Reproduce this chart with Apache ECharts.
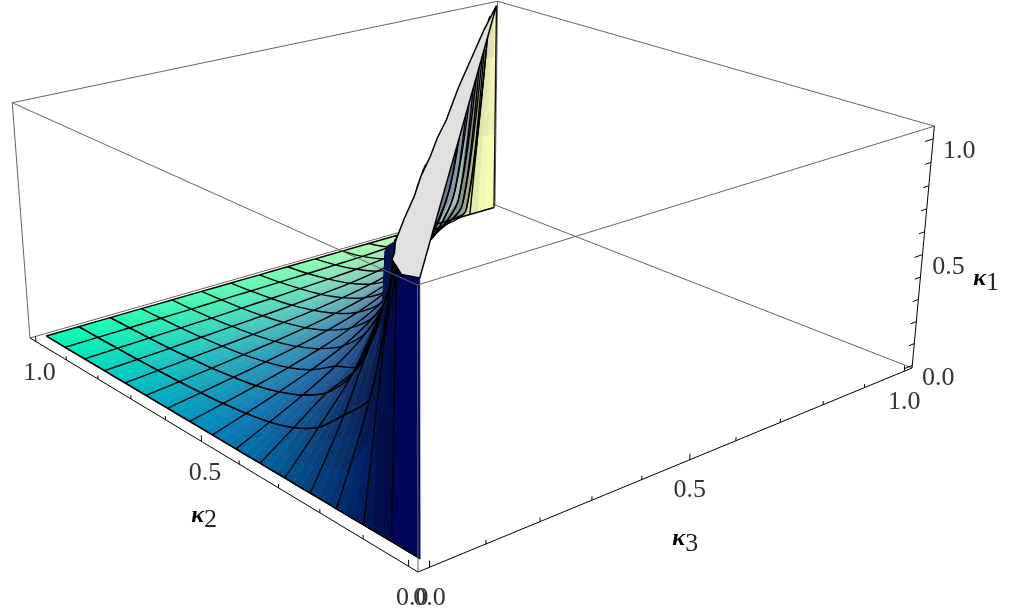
<!DOCTYPE html>
<html><head><meta charset="utf-8">
<style>html,body{margin:0;padding:0;background:#fff}#c{width:1014px;height:615px}</style>
<script src="https://cdn.jsdelivr.net/npm/echarts@6/dist/echarts.min.js"></script>
</head><body><div id="c"></div>
<script>
// ---- data: k1 over the mesh k2=a/16, k3=b/16 (b<=a); last entry of a row sits above the clip
const meshSteps = 16;
const k1Row01 = [0,5.5];
const k1Row02 = [0,1.1,1.6];
const k1Row03 = [0,.40,.98,1.4];
const k1Row04 = [0,.27,.60,.90,1.6];
const k1Row05 = [0,.16,.33,.59,.95,1.6];
const k1Row06 = [0,.10,.20,.27,.55,.90,1.4];
const k1Row07 = [0,.065,.133,.21,.316,.49,.90,1.35];
const k1Row08 = [0,.044,.09,.14,.20,.287,.44,.87,1.3];
const k1Row09 = [0,.03,.061,.095,.134,.183,.254,.386,.757,1.35];
const k1Row10 = [0,.021,.043,.066,.091,.121,.16,.219,.329,.648,1.38];
const k1Row11 = [0,.014,.029,.045,.061,.08,.104,.135,.183,.273,.538,1.35];
const k1Row12 = [0,.01,.02,.03,.041,.053,.067,.085,.109,.147,.219,.432,1.31];
const k1Row13 = [0,.006,.012,.019,.026,.033,.041,.051,.063,.082,.11,.164,.322,1.28];
const k1Row14 = [0,.004,.007,.011,.014,.019,.023,.029,.035,.043,.055,.073,.109,.216,1.26];
const k1Row15 = [0,.002,.003,.005,.006,.008,.01,.012,.014,.017,.02,.027,.036,.054,.107,1.25];
const k1Row16 = [0,0,0,0,0,0,0,0,0,0,0,0,0,0,0,0,0];
const k1Clip = 1.05;                 // the surface is cut flat at this height
// outline of the flat cut, read along its edge
const capK2 = [0,.04,.075,.09,.125,.1875,.25,.3125,.375,.4375,.5,.625,.75,.875,1];
const capK3 = [0,.002,.014,.03,.0597,.125,.193,.256,.325,.39,.46,.59,.725,.86,1];
const capK1 = [1.05,1.03,1.05,1.05,1.05,1.05,1.05,1.05,1.05,1.05,1.05,1.05,1.05,1.05,1.05];
const tickValues = [0,.1,.2,.3,.4,.5,.6,.7,.8,.9,1];
const tickLabels = ['0.0','0.5','1.0'];

// ---- view
const pad = {lo:-.02, hi:1.02, zLo:-.012, zHi:1.054};
const cam = {Xo:418,Xu:-380.2,Xv:696.6,Xz:-23,Yo:572,Yu:-145.6,Yv:-122.3,Yz:-302.3,a:.2616,b:.2221,c:-.0538};
const rows = [[0],k1Row01,k1Row02,k1Row03,k1Row04,k1Row05,k1Row06,k1Row07,k1Row08,k1Row09,k1Row10,k1Row11,k1Row12,k1Row13,k1Row14,k1Row15,k1Row16];
const SUB = 3, FRONT_ROWS = 2;

function box(p){return [(p[0]-pad.lo)/(pad.hi-pad.lo),(p[1]-pad.lo)/(pad.hi-pad.lo),(p[2]-pad.zLo)/(pad.zHi-pad.zLo)];}
function depth(p){const b=box(p);return 1+cam.a*b[0]+cam.b*b[1]+cam.c*b[2];}
function project(p){const b=box(p),w=depth(p);
  return [(cam.Xo+cam.Xu*b[0]+cam.Xv*b[1]+cam.Xz*b[2])/w,(cam.Yo+cam.Yu*b[0]+cam.Yv*b[1]+cam.Yz*b[2])/w];}
function V(a,b){return [a/meshSteps,b/meshSteps,rows[a][b]];}
function lerp(p,q,t){return [p[0]+(q[0]-p[0])*t,p[1]+(q[1]-p[1])*t,p[2]+(q[2]-p[2])*t];}
function clipPoly(pts){const out=[];for(let i=0;i<pts.length;i++){const p=pts[i],q=pts[(i+1)%pts.length];
    const pi=p[2]<=k1Clip,qi=q[2]<=k1Clip;if(pi)out.push(p);
    if(pi!==qi)out.push(lerp(p,q,(k1Clip-p[2])/(q[2]-p[2])));}return out;}
function clipCurve(pts){const out=[pts[0]];for(let i=1;i<pts.length;i++){const p=pts[i-1],q=pts[i];
    if(q[2]<=k1Clip){out.push(q);continue;}
    out.push(lerp(p,q,(k1Clip-p[2])/(q[2]-p[2])));break;}return out;}
function pw(x,xs,ys){for(let i=1;i<xs.length;i++)if(x<=xs[i]){const t=(x-xs[i-1])/(xs[i]-xs[i-1]);return ys[i-1]+(ys[i]-ys[i-1])*t;}return ys[ys.length-1];}
function clamp01(x){return Math.max(0,Math.min(1,x));}
function shade(k2,k3,k1){
  let dark=1-.38*Math.min(1,k1/.4)*clamp01((.85-k2)/.2);
  if(k3>.75)dark*=1-.35*clamp01((.97-k3)/.12);
  const r=255*k3*dark,g=255*Math.pow(k2,.95)*dark,b=pw(k2,[0,.25,.5,.75,1],[85,130,190,195,178])*(.3+.7*dark);
  return 'rgb('+Math.round(r)+','+Math.round(g)+','+Math.round(b)+')';}

// cells of the mesh
const cells=[];
for(let a=1;a<meshSteps;a++)for(let b=0;b<=a;b++){
  const q=b<a?[V(a,b),V(a+1,b),V(a+1,b+1),V(a,b+1)]:[V(a,b),V(a+1,b),V(a+1,b+1),V(a,b)];
  const cl=clipPoly(q);if(!cl.length)continue;
  const dep=cl.reduce((s,p)=>s+depth(p),0)/cl.length;
  cells.push({a,b,q,dep});
}
function crossing(a){const r=rows[a];for(let b=0;b<a;b++)if(r[b+1]>k1Clip){const t=(k1Clip-r[b])/(r[b+1]-r[b]);return (b+t)/meshSteps;}return a/meshSteps;}
const wallFront=[[1/meshSteps,0,0],[0,0,0],[0,0,k1Clip],[1/meshSteps,crossing(1),k1Clip]];
const wallBack=[[1,15/meshSteps,0],[1,1,0],[1,1,k1Clip],[15/meshSteps,crossing(15),k1Clip]];
cells.sort((x,y)=>y.dep-x.dep);
const cap=capK2.map((k,i)=>[k,capK3[i],capK1[i]]);

// whole mesh curves
const aCurves=[],bCurves=[];
for(let a=1;a<=meshSteps;a++){const pts=[];for(let b=0;b<=(a===meshSteps?meshSteps:a);b++)pts.push(V(a,b));aCurves.push(clipCurve(pts));}
for(let b=0;b<meshSteps;b++){const pts=[];for(let a=meshSteps;a>=Math.max(b,1);a--)pts.push(V(a,b));
  if(b===0)pts.push([0,0,0]);bCurves.push(clipCurve(pts));}
const curves=aCurves.concat(bCurves);
const frontCurves=aCurves.slice(0,3).concat(bCurves.slice(0,3));

// box edges
const L=pad.lo,H=pad.hi,ZL=pad.zLo,ZH=pad.zHi;
const backEdges=[[[H,L,ZH],[H,H,ZH]],[[H,H,ZH],[L,H,ZH]],[[L,H,ZL],[H,H,ZL]],[[H,L,ZL],[H,H,ZL]],[[H,H,ZL],[H,H,ZH]]];
const frontEdges=[[[H,L,ZH],[L,L,ZH]],[[L,L,ZH],[L,H,ZH]],[[L,L,ZL],[L,L,ZH]],[[H,L,ZL],[H,L,ZH]]];
const axisEdges=[[[H,L,ZL],[L,L,ZL]],[[L,L,ZL],[L,H,ZL]],[[L,H,ZL],[L,H,ZH]]];

function line(api,p,q,color,w){const a=api.coord(project(p)),b=api.coord(project(q));
  return {type:'line',shape:{x1:a[0],y1:a[1],x2:b[0],y2:b[1]},style:{stroke:color,lineWidth:w,fill:null},silent:true};}
function poly(api,pts,fill,stroke,w){return {type:'polygon',shape:{points:pts.map(p=>api.coord(project(p)))},style:{fill:fill,stroke:stroke,lineWidth:w},silent:true};}
function customBase(z,data,fn){return {type:'custom',coordinateSystem:'cartesian2d',z:z,silent:true,clip:false,animation:false,progressive:0,
  data:data.map((e,i)=>[i]),renderItem:fn};}
function edgeSeries(list,color,w,z){return customBase(z,list,(p,api)=>{const e=list[api.value(0)];return line(api,e[0],e[1],color,w);});}
function curveEl(api,c){return {type:'polyline',shape:{points:c.map(v=>api.coord(project(v))),smooth:.3},style:{stroke:'#000',lineWidth:1.4,fill:null},silent:true};}

function facets(api,c){
  const kids=[],q=c.q;
  for(let i=0;i<SUB;i++)for(let j=0;j<SUB;j++){
    const sub=[[i,j],[i+1,j],[i+1,j+1],[i,j+1]].map(t=>{const s=t[0]/SUB,u=t[1]/SUB;
      return lerp(lerp(q[0],q[1],s),lerp(q[3],q[2],s),u);});
    const cl=clipPoly(sub);if(cl.length<3)continue;
    const mk2=sub.reduce((s,v)=>s+v[0],0)/4,mk3=sub.reduce((s,v)=>s+v[1],0)/4,mk1=cl.reduce((s,v)=>s+v[2],0)/cl.length,col=shade(mk2,mk3,mk1);
    kids.push(poly(api,cl,col,col,.6));
  }
  return kids;
}
function wall(api,w,k2,k3){const col=shade(k2,k3,0);return poly(api,w,col,col,.6);}
const frontCells=cells.filter(c=>c.a<=FRONT_ROWS);

const tickItems=[];
tickValues.forEach(t=>{const major=Math.abs(t*2-Math.round(t*2))<1e-6;
  const h=major?.026:.016,d=major?.02:.014;
  tickItems.push([[t,L,ZL],[t,L,ZL+h]]);
  tickItems.push([[L,t,ZL],[L,t,ZL+h]]);
  tickItems.push([[L,H,t],[L,H-d,t]]);
});
const labelItems=[];
tickLabels.forEach(s=>{const t=parseFloat(s);
  labelItems.push({s,p:[t,L,ZL],dx:3.5,dy:31.5});
  labelItems.push({s,p:[L,t,ZL],dx:0,dy:30.5});
  labelItems.push({s,p:[L,H,t],dx:26,dy:12.5});
});
const titles=[{sub:'2',p:[.5,L,ZL],dx:-4,dy:74},{sub:'3',p:[L,.5,ZL],dx:-11,dy:79},{sub:'1',p:[L,H,.5],dx:57,dy:24}];

const chart=echarts.init(document.getElementById('c'),null,{renderer:'canvas'});
chart.setOption({animation:false,backgroundColor:'#fff',
  grid:{left:0,right:0,top:0,bottom:0},
  xAxis:{type:'value',min:0,max:1014,show:false},
  yAxis:{type:'value',min:0,max:615,inverse:true,show:false},
  series:[
   edgeSeries(backEdges,'#666',1,1),
   customBase(2,[0],(p,api)=>wall(api,wallBack,.97,.97)),
   customBase(2,cells,(p,api)=>({type:'group',children:facets(api,cells[api.value(0)])})),
   customBase(3,curves,(p,api)=>curveEl(api,curves[api.value(0)])),
   customBase(4,frontCells,(p,api)=>({type:'group',children:facets(api,frontCells[api.value(0)])})),
   customBase(5,[0],(p,api)=>wall(api,wallFront,.02,.005)),
   customBase(5,frontCurves,(p,api)=>curveEl(api,frontCurves[api.value(0)])),
   customBase(6,[0],(p,api)=>({type:'group',children:[poly(api,cap,'#e0e0e0','#000',1.5),line(api,[1,1,0],[1,1,k1Clip],'#111',1.4)]})),
   edgeSeries(frontEdges,'#666',1,7),
   edgeSeries(axisEdges,'#000',1,8),
   edgeSeries(tickItems,'#000',1,8),
   customBase(9,labelItems,(p,api)=>{const it=labelItems[api.value(0)],c=api.coord(project(it.p));
      return {type:'text',x:c[0]+it.dx,y:c[1]+it.dy,style:{text:it.s,align:'center',verticalAlign:'middle',fill:'#333',font:'26px "Liberation Serif"'}};}),
   customBase(9,titles,(p,api)=>{const it=titles[api.value(0)],c=api.coord(project(it.p));
      return {type:'group',children:[
        {type:'text',x:c[0]+it.dx,y:c[1]+it.dy,style:{text:'κ',align:'center',verticalAlign:'middle',fill:'#000',font:'italic bold 24px "Liberation Serif"'}},
        {type:'text',x:c[0]+it.dx+13,y:c[1]+it.dy+5,style:{text:it.sub,align:'center',verticalAlign:'middle',fill:'#222',font:'26px "Liberation Serif"'}}]};})
  ]});
</script></body></html>
